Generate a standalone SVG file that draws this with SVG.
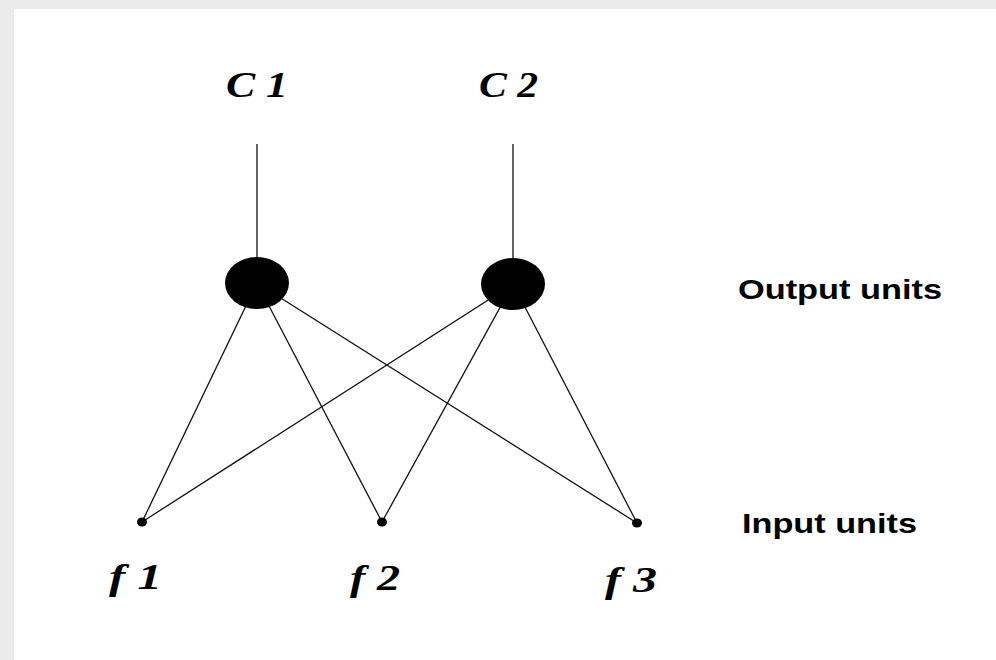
<svg xmlns="http://www.w3.org/2000/svg" width="996" height="660" viewBox="0 0 996 660">
<style>
.conn line{stroke:#111;stroke-width:1.3;fill:none}
.unit{fill:#000}
.lbl{font-family:"Liberation Serif","Times New Roman",serif;font-style:italic;font-weight:bold;font-size:35px;fill:#000}
.side{font-family:"Liberation Sans",Arial,sans-serif;font-weight:bold;font-size:27px;fill:#000}
</style>
<rect x="0" y="0" width="996" height="660" fill="#ffffff"/>
<rect x="0" y="0" width="14" height="660" fill="#ebebeb"/>
<rect x="0" y="0" width="996" height="9" fill="#ebebeb"/>
<g class="conn" id="connectors">
<line x1="257" y1="144" x2="257" y2="283"/>
<line x1="513" y1="144" x2="513" y2="284"/>
<line x1="257" y1="283" x2="142" y2="522"/>
<line x1="257" y1="283" x2="382" y2="522"/>
<line x1="257" y1="283" x2="637" y2="523"/>
<line x1="513" y1="284" x2="142" y2="522"/>
<line x1="513" y1="284" x2="382" y2="522"/>
<line x1="513" y1="284" x2="637" y2="523"/>
</g>
<g id="c1"><text class="lbl" x="226" y="97" textLength="62" lengthAdjust="spacingAndGlyphs">C 1</text></g>
<g id="c2"><text class="lbl" x="479" y="97" textLength="59" lengthAdjust="spacingAndGlyphs">C 2</text></g>
<g id="out1"><ellipse class="unit" cx="257" cy="283" rx="32" ry="26"/></g>
<g id="out2"><ellipse class="unit" cx="513" cy="284" rx="32" ry="26"/></g>
<g id="in1"><ellipse class="unit" cx="142" cy="522" rx="5" ry="4.5"/><text class="lbl" x="109" y="589" textLength="53" lengthAdjust="spacingAndGlyphs">f 1</text></g>
<g id="in2"><ellipse class="unit" cx="382" cy="522" rx="5" ry="4.5"/><text class="lbl" x="350" y="590" textLength="50" lengthAdjust="spacingAndGlyphs">f 2</text></g>
<g id="in3"><ellipse class="unit" cx="637" cy="523" rx="5" ry="4.5"/><text class="lbl" x="605" y="592" textLength="52" lengthAdjust="spacingAndGlyphs">f 3</text></g>
<g id="output-label"><text class="side" x="738" y="299" textLength="204" lengthAdjust="spacingAndGlyphs">Output units</text></g>
<g id="input-label"><text class="side" x="742" y="533" textLength="175" lengthAdjust="spacingAndGlyphs">Input units</text></g>
</svg>
